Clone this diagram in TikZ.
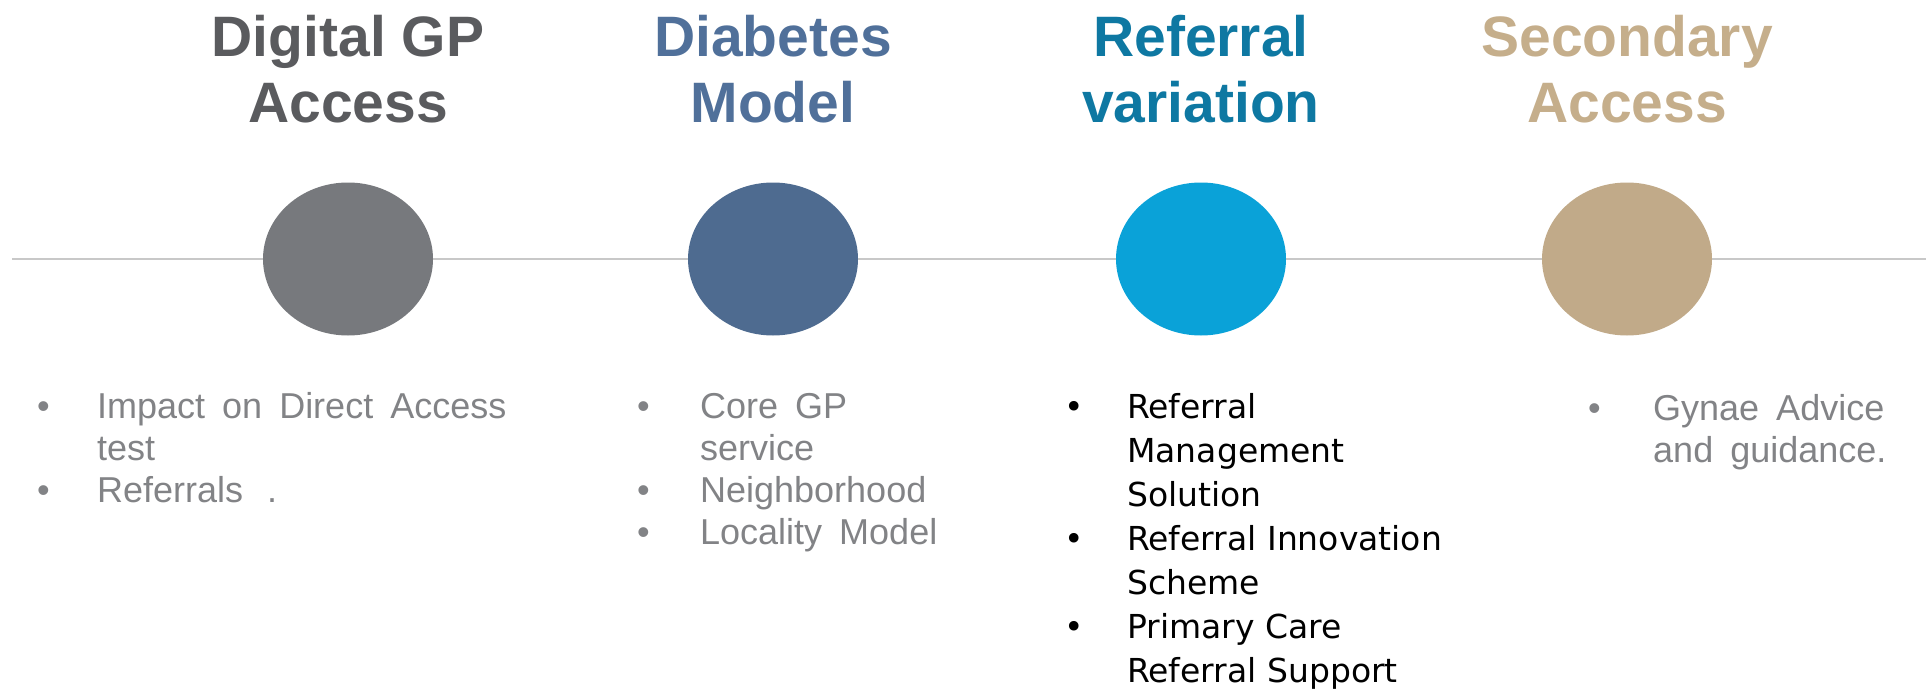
\documentclass[tikz,border=0pt]{standalone}
\usepackage{fontspec}
\setmainfont{Liberation Sans}
\newfontfamily\wideface{DejaVu Sans}
\usetikzlibrary{shapes.geometric}
\newcommand\loosespaces{\spaceskip=17pt plus 2pt\relax}
\definecolor{greydot}{HTML}{77797D}
\definecolor{bluedot}{HTML}{4E6B90}
\definecolor{cyandot}{HTML}{0AA2D8}
\definecolor{sanddot}{HTML}{C1AA89}
\definecolor{greyhead}{HTML}{5A5B5E}
\definecolor{bluehead}{HTML}{50709A}
\definecolor{cyanhead}{HTML}{0E78A2}
\definecolor{sandhead}{HTML}{C5AE8B}
\definecolor{textgrey}{HTML}{828386}
\definecolor{linegrey}{HTML}{C8C8C8}
\tikzset{
  bubble/.style={ellipse,minimum width=170pt,minimum height=153pt,inner sep=0pt},
  heading/.style={align=center,anchor=base,inner sep=0pt,font=\fontsize{57}{66}\selectfont\bfseries},
  points/.style={anchor=base west,inner sep=0pt,font=\fontsize{36}{42}\selectfont\loosespaces,text=textgrey}
}
\begin{document}
\begin{tikzpicture}[x=1pt,y=-1pt]
\useasboundingbox (0,0) rectangle (1930,690);
\coordinate (lstart) at (12,259);
\coordinate (lend) at (1926,259);
\node[bubble,fill=greydot] (c1) at (348,259) {};
\node[bubble,fill=bluedot] (c2) at (773,259) {};
\node[bubble,fill=cyandot] (c3) at (1201,259) {};
\node[bubble,fill=sanddot] (c4) at (1627,259) {};
\draw[linegrey,line width=2pt] (lstart) -- (c1) -- (c2) -- (c3) -- (c4) -- (lend);
\node[heading,text=greyhead] (t1) at (348,123) {Digital GP\\Access};
\node[heading,text=bluehead] (t2) at (773,123) {Diabetes\\Model};
\node[heading,text=cyanhead] (t3) at (1201,123) {Referral\\variation};
\node[heading,text=sandhead] (t4) at (1627,123) {Secondary\\Access};
\node[points] (l1) at (37,418) {\begin{tabular}[t]{@{}p{60pt}@{}l@{}}
\textbullet & Impact on Direct Access\\
 & test\\
\textbullet & Referrals\hspace{24pt}.
\end{tabular}};
\node[points] (l2) at (637,418) {\begin{tabular}[t]{@{}p{63pt}@{}l@{}}
\textbullet & Core GP\\
 & service\\
\textbullet & Neighborhood\\
\textbullet & Locality Model
\end{tabular}};
\node[points,text=black,font=\fontsize{33}{44}\selectfont\wideface] (l3) at (1064,418) {\begin{tabular}[t]{@{}p{63pt}@{}l@{}}
\textbullet & Referral\\
 & Management\\
 & Solution\\
\textbullet & Referral Innovation\\
 & Scheme\\
\textbullet & Primary Care\\
 & Referral Support
\end{tabular}};
\node[points] (l4) at (1588,420) {\begin{tabular}[t]{@{}p{65pt}@{}l@{}}
\textbullet & Gynae Advice\\
 & and guidance.
\end{tabular}};
\end{tikzpicture}
\end{document}
